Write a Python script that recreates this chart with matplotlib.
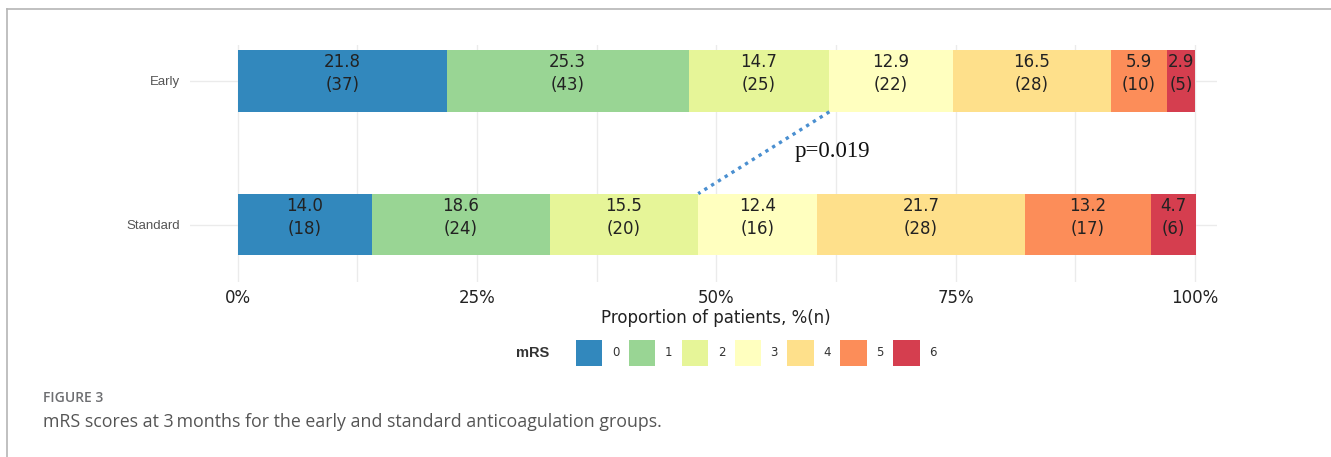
import numpy as np
import matplotlib.pyplot as plt
from matplotlib.lines import Line2D

# data
groups = ["Standard", "Early"]
mrs_levels = ["0", "1", "2", "3", "4", "5", "6"]
early_pct = [21.8, 25.3, 14.7, 12.9, 16.5, 5.9, 2.9]
early_n = [37, 43, 25, 22, 28, 10, 5]
standard_pct = [14.0, 18.6, 15.5, 12.4, 21.7, 13.2, 4.7]
standard_n = [18, 24, 20, 16, 28, 17, 6]
colors = ["#3288BD", "#99D594", "#E6F598", "#FFFFBF", "#FEE08B", "#FC8D59", "#D53E4F"]
p_text = "p=0.019"

W, H = 1331, 457
fig = plt.figure(figsize=(W / 100, H / 100), dpi=100)


def fx(x):
    return x / W


def fy(y):
    return 1 - y / H


# panel
ax = fig.add_axes([fx(190), fy(282), fx(1217) - fx(190), fy(45) - fy(282)])
ax.set_xlim(-5, 102.3)
ax.set_ylim(-0.4, 1.25)
for s in ax.spines.values():
    s.set_visible(False)

grid_c = "#ebebeb"
for gx in np.arange(0, 101, 12.5):
    ax.axvline(gx, color=grid_c, lw=1.0, zorder=0)
for gy in range(len(groups)):
    ax.axhline(gy, color=grid_c, lw=1.0, zorder=0)

pct = {"Early": early_pct, "Standard": standard_pct}
cnt = {"Early": early_n, "Standard": standard_n}
bar_h = 0.43
handles = []
for yi, g in enumerate(groups):
    left = np.concatenate([[0], np.cumsum(pct[g])[:-1]])
    bars = ax.barh([yi] * len(mrs_levels), pct[g], left=left, height=bar_h,
                   color=colors, edgecolor="none", zorder=2)
    if yi == 0:
        handles = list(bars)
    for l, w, n in zip(left, pct[g], cnt[g]):
        ax.text(l + w / 2, yi + 0.05, f"{w:.1f}\n({n})", ha="center", va="center",
                fontsize=12, color="#222222", linespacing=1.35,
                family="DejaVu Sans", zorder=3)

# dotted line between the mRS 3 segments
early_left3 = sum(early_pct[:3])
std_left3 = sum(standard_pct[:3])
ax.plot([early_left3, std_left3], [1 - bar_h / 2, bar_h / 2], linestyle=(0, (1, 1.4)),
        color="#4a8fd0", lw=2.4, zorder=3)
ax.text(58.2, 0.51, p_text, ha="left", va="center", fontsize=16.5,
        family="Liberation Serif", color="#111111")

ax.set_xticks([0, 25, 50, 75, 100])
ax.set_xticklabels(["0%", "25%", "50%", "75%", "100%"], fontsize=12, color="#222222")
ax.tick_params(axis="x", length=0, pad=5)
ax.set_yticks([0, 1])
ax.set_yticklabels(groups, fontsize=9.5, color="#555555", family="Liberation Sans")
ax.tick_params(axis="y", length=0, pad=7)

fig.text(fx(716), fy(318), "Proportion of patients, %(n)", ha="center", va="center",
         fontsize=12, color="#222222")

# legend
fig.text(fx(533), fy(353), "mRS", ha="center", va="center", fontsize=10.5,
         fontweight="bold", color="#333333", family="Liberation Sans")
fig.legend(handles, mrs_levels, loc="center left", bbox_to_anchor=(fx(570), fy(353)),
           ncol=7, frameon=False, fontsize=8.5, handlelength=2.25, handleheight=2.9,
           handletextpad=0.8, columnspacing=0.8, borderpad=0,
           labelcolor="#333333")

# caption
fig.text(fx(43), fy(398), "FIGURE 3", ha="left", va="center", fontsize=10,
         fontweight="semibold", color="#6d6e71", family="Open Sans")
fig.text(fx(43), fy(422), "mRS scores at 3\u2009months for the early and standard anticoagulation groups.",
         ha="left", va="center", fontsize=12.8, color="#555555", family="Open Sans")

# frame lines
fig.add_artist(Line2D([fx(7), fx(W)], [fy(9), fy(9)], color="#b5b5b5", lw=1.2))
fig.add_artist(Line2D([fx(7), fx(7)], [fy(9), fy(H)], color="#b5b5b5", lw=1.2))

fig.savefig("out.png", dpi=100)
